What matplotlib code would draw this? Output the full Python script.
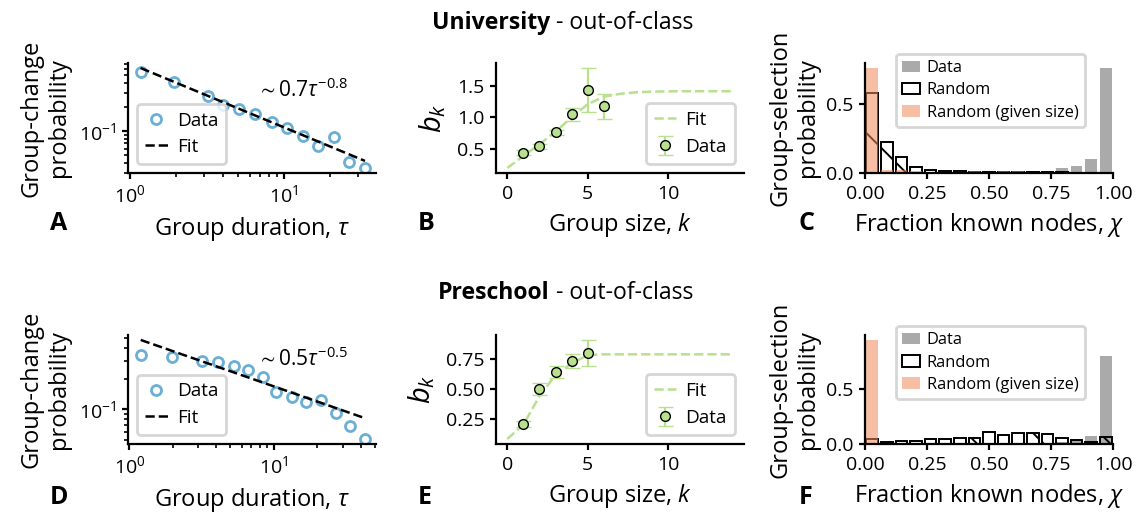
import numpy as np
import matplotlib
matplotlib.use('Agg')
import matplotlib.pyplot as plt
from matplotlib.ticker import NullFormatter

plt.rcParams['font.family'] = ['Open Sans', 'DejaVu Sans']
plt.rcParams['mathtext.fontset'] = 'custom'
plt.rcParams['mathtext.rm'] = 'Open Sans'
plt.rcParams['mathtext.it'] = 'Open Sans:italic'
plt.rcParams['mathtext.bf'] = 'Open Sans:bold'
plt.rcParams['mathtext.fallback'] = 'stixsans'
plt.rcParams['axes.linewidth'] = 0.8
plt.rcParams['hatch.linewidth'] = 0.7
plt.rcParams['xtick.labelsize'] = 7
plt.rcParams['ytick.labelsize'] = 7
plt.rcParams['axes.labelsize'] = 8.5
plt.rcParams['legend.fontsize'] = 6.8
plt.rcParams['legend.handlelength'] = 1.2
plt.rcParams['legend.handletextpad'] = 0.5

# ---- University, group duration (A)
uni_tau = [1.17, 1.93, 3.2, 4.0, 5.1, 6.5, 8.3, 10.4, 13.2, 16.6, 21.0, 26.4, 33.5]
uni_change = [0.542, 0.41, 0.277, 0.211, 0.19, 0.164, 0.129, 0.108, 0.0875,
              0.0646, 0.084, 0.041, 0.0344]
uni_fit_tau = [1.17, 33.5]
uni_fit_prob = [0.617, 0.0422]
uni_fit_text = r'$\sim 0.7\tau^{-0.8}$'

# ---- Preschool, group duration (D)
pre_tau = [1.2, 1.97, 3.17, 4.09, 5.27, 6.59, 8.4, 10.4, 13.3, 16.8, 21.3, 26.9, 33.6, 42.9]
pre_change = [0.345, 0.325, 0.298, 0.294, 0.267, 0.243, 0.207, 0.148, 0.131,
              0.118, 0.122, 0.0918, 0.0679, 0.0508]
pre_fit_tau = [1.2, 42.9]
pre_fit_prob = [0.482, 0.0815]
pre_fit_text = r'$\sim 0.5\tau^{-0.5}$'

# ---- b_k vs group size (B, E)
uni_k = [1, 2, 3, 4, 5, 6]
uni_bk = [0.434, 0.535, 0.76, 1.048, 1.433, 1.176]
uni_bk_err = [0.04, 0.04, 0.04, 0.1, 0.355, 0.2]
fit_k = list(range(15))
uni_bk_fit = [0.19, 0.38, 0.57, 0.77, 1.0, 1.21, 1.33, 1.375, 1.40, 1.41,
              1.415, 1.417, 1.417, 1.417, 1.417]

pre_k = [1, 2, 3, 4, 5]
pre_bk = [0.211, 0.499, 0.646, 0.738, 0.803]
pre_bk_err = [0.025, 0.05, 0.05, 0.06, 0.109]
pre_bk_fit = [0.085, 0.205, 0.443, 0.62, 0.716, 0.786, 0.792, 0.792, 0.792,
              0.792, 0.792, 0.792, 0.792, 0.792, 0.792]

# ---- fraction of known nodes histograms (C, F), 17 bins on [0, 1]
n_bins = 17
uni_data = [0, 0, 0, 0, 0, 0, 0, 0, 0, 0, 0, 0, 0.006, 0.037, 0.051, 0.10, 0.758]
uni_random = [0.58, 0.222, 0.117, 0.044, 0.022, 0.014, 0.012, 0.01, 0.01, 0.008,
              0.007, 0.007, 0.005, 0.004, 0.003, 0.002, 0.002]
uni_sized = [0.758, 0.024, 0.02, 0.012, 0.01, 0.008, 0.008, 0.012, 0.01, 0.014,
             0.014, 0.01, 0.01, 0.008, 0.006, 0.006, 0.008]

pre_data = [0, 0, 0, 0, 0, 0, 0, 0, 0, 0, 0, 0, 0, 0.02, 0.035, 0.07, 0.803]
pre_random = [0.045, 0.018, 0.024, 0.027, 0.042, 0.048, 0.052, 0.058, 0.109, 0.085,
              0.1, 0.097, 0.088, 0.052, 0.039, 0.018, 0.06]
pre_sized = [0.945, 0, 0, 0, 0, 0, 0, 0, 0, 0, 0, 0, 0, 0, 0, 0, 0]

BLUE = '#6baed6'
GREEN = '#b8e08f'
GRAY = '#aaaaaa'
ORANGE = '#ee8a5c'

W, H = 1137, 512
fig = plt.figure(figsize=(W / 200, H / 200), dpi=200)


def rect(x0, y0, x1, y1):
    return [x0 / W, 1 - y1 / H, (x1 - x0) / W, (y1 - y0) / H]


def style(ax):
    for s in ['top', 'right']:
        ax.spines[s].set_visible(False)
    ax.tick_params(which='major', length=2.2, width=0.8, pad=2)
    ax.tick_params(which='minor', length=1.3, width=0.6)


def duration_panel(ax, tau, prob, ftau, fprob, ftext, ty, xlim):
    ax.plot(tau, prob, 'o', mfc='none', mec=BLUE, ms=3.6, mew=1.0, label='Data')
    ax.plot(ftau, fprob, '--', color='k', lw=0.9, label='Fit')
    ax.set_xscale('log')
    ax.set_yscale('log')
    ax.set_xlim(*xlim)
    ax.yaxis.set_minor_formatter(NullFormatter())
    ax.text(0.52, ty, ftext, transform=ax.transAxes, fontsize=7.5)
    ax.legend(loc='lower left', labelspacing=0.45)
    ax.set_xlabel(r'Group duration, $\tau$', labelpad=3)
    ax.set_ylabel('Group-change\nprobability', labelpad=3)
    style(ax)


def size_panel(ax, k, bk, err, fk, fit):
    ax.plot(fk, fit, '--', color=GREEN, lw=0.9, label='Fit')
    ax.errorbar(k, bk, yerr=err, fmt='o', color=GREEN, mfc=GREEN, mec='k',
                mew=0.5, ms=3.5, elinewidth=0.8, capsize=2.7, capthick=0.8,
                label='Data')
    ax.legend(loc='lower right')
    ax.set_xlabel(r'Group size, $k$', labelpad=3)
    ax.set_ylabel(r'$b_k$', labelpad=3, fontsize=10.5)
    style(ax)


def known_panel(ax, data, rnd, sized):
    edges = np.linspace(0, 1, n_bins + 1)
    centers = (edges[:-1] + edges[1:]) / 2
    w = 0.8 * (edges[1] - edges[0])
    ax.bar(centers, data, width=w, color=GRAY, label='Data')
    ax.bar(centers, rnd, width=w, facecolor='none', edgecolor='k', lw=0.7,
           hatch='\\', label='Random')
    ax.bar(centers, sized, width=w, color=ORANGE, alpha=0.55,
           label='Random (given size)')
    ax.set_xlim(0, 1)
    ax.set_xticks([0, 0.25, 0.5, 0.75, 1.0])
    ax.legend(loc='upper right', bbox_to_anchor=(0.887, 1.085), borderaxespad=0,
              fontsize=5.9, handlelength=1.1, handletextpad=0.4, labelspacing=0.38)
    ax.set_xlabel(r'Fraction known nodes, $\chi$', labelpad=3)
    ax.set_ylabel('Group-selection\nprobability', labelpad=2)
    style(ax)


axA = fig.add_axes(rect(128, 63, 376, 173))
axB = fig.add_axes(rect(496, 63, 744, 173))
axC = fig.add_axes(rect(865, 63, 1113, 173))
axD = fig.add_axes(rect(128, 335, 376, 444))
axE = fig.add_axes(rect(496, 335, 744, 444))
axF = fig.add_axes(rect(865, 335, 1113, 444))

duration_panel(axA, uni_tau, uni_change, uni_fit_tau, uni_fit_prob, uni_fit_text,
               0.69, (0.97, 39.5))
duration_panel(axD, pre_tau, pre_change, pre_fit_tau, pre_fit_prob, pre_fit_text,
               0.72, (0.98, 51))
size_panel(axB, uni_k, uni_bk, uni_bk_err, fit_k, uni_bk_fit)
size_panel(axE, pre_k, pre_bk, pre_bk_err, fit_k, pre_bk_fit)
known_panel(axC, uni_data, uni_random, uni_sized)
known_panel(axF, pre_data, pre_random, pre_sized)

# row titles
for name, yb in [('University', 29), ('Preschool', 299)]:
    fig.text(550 / W, 1 - yb / H, name, weight='bold', ha='right', va='baseline', fontsize=8.3)
    fig.text(550 / W, 1 - yb / H, ' - out-of-class', ha='left', va='baseline', fontsize=8.3)

# panel letters
for letter, x, yb in [('A', 50, 230), ('B', 418, 230), ('C', 799, 230),
                      ('D', 50, 504), ('E', 418, 504), ('F', 799, 504)]:
    fig.text(x / W, 1 - yb / H, letter, weight='bold', fontsize=9, va='baseline')

fig.savefig('out.png', dpi=200)
